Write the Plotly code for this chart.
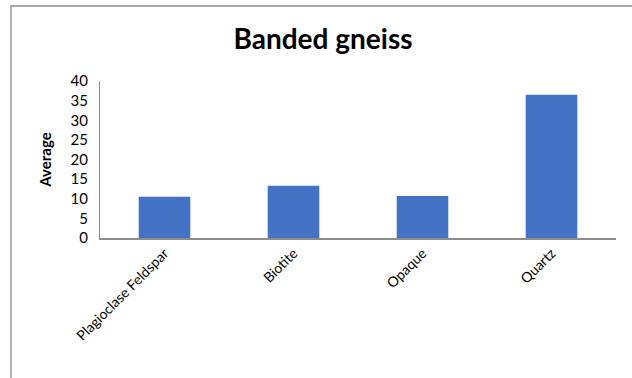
import plotly.graph_objects as go

categories = ["Plagioclase Feldspar", "Biotite", "Opaque", "Quartz"]
values = [10.5, 13.3, 10.7, 36.5]
y_ticks = [0, 5, 10, 15, 20, 25, 30, 35, 40]

fig = go.Figure(go.Bar(x=categories, y=values, marker_color="#4472C4", marker_line_width=0))

W, H = 632, 378
L, R, T, B = 100, 16, 81, 140
pw, ph = W - L - R, H - T - B

def px_x(x):
    return (x - L) / pw

def px_y(y):
    return (H - B - y) / ph

fig.update_layout(
    width=W, height=H,
    margin=dict(l=L, r=R, t=T, b=B),
    paper_bgcolor="white", plot_bgcolor="white",
    bargap=0.6,
    showlegend=False,
    font=dict(family="Lato, Open Sans, sans-serif", color="#000000"),
    title=dict(text="<b>Banded gneiss</b>", x=px_x(323), xref="paper", xanchor="center",
               y=1 - 39 / H, yanchor="middle", font=dict(size=28, family="Lato", color="#000")),
    shapes=[dict(type="rect", xref="paper", yref="paper",
                 x0=px_x(11), x1=px_x(650), y0=px_y(6), y1=px_y(400),
                 line=dict(color="#8c8c8c", width=1.3), fillcolor="rgba(0,0,0,0)", layer="below")],
)
fig.update_xaxes(showline=True, linecolor="#8c8c8c", linewidth=1.5, tickangle=-45,
                 ticks="", tickfont=dict(size=14, family="Lato"), showgrid=False)
fig.update_yaxes(range=[0, 40], tickvals=y_ticks, showline=True, linecolor="#8c8c8c", linewidth=1,
                 ticks="", showgrid=False, zeroline=False, ticklabelstandoff=8,
                 tickfont=dict(size=15, family="Lato"),
                 title=dict(text="<b>Average</b>", font=dict(size=15, family="Lato"), standoff=15))

fig.write_html("out.html")
